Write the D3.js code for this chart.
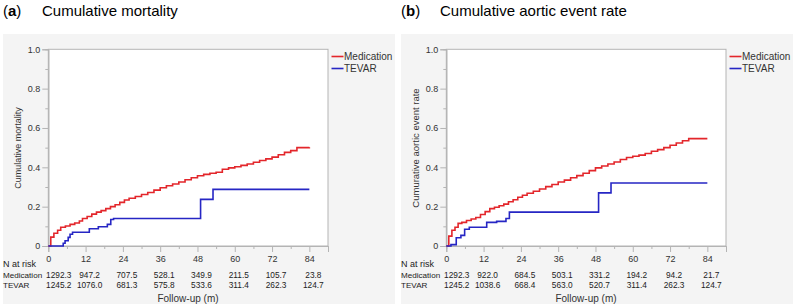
<!DOCTYPE html>
<html><head><meta charset="utf-8">
<script src="https://cdn.jsdelivr.net/npm/d3@7"></script>
<style>
body{margin:0;background:#fff;}
svg{display:block;font-family:"Liberation Sans",Arial,sans-serif;}
</style></head>
<body><svg id="c" width="800" height="308"></svg>
<script>
// ---------- data ----------
const xTicks = [0, 12, 24, 36, 48, 60, 72, 84];
const yTicks = [0, 0.2, 0.4, 0.6, 0.8, 1.0];
const seriesNames = ["Medication", "TEVAR"];

// Panel a: cumulative mortality
const mortMedT = [0,0.8,1.8,3,4,5.5,7,8.5,10,11,12.5,14,15.5,17,18.5,20,21.5,23,24.5,26,28,30,32,34,36,38,40,42,44,46,48,50,52,54,56,58,60,62,64,66,68,70,72,74,76,78,80,84];
const mortMedV = [0,0.045,0.065,0.08,0.095,0.102,0.11,0.117,0.127,0.14,0.15,0.162,0.172,0.18,0.19,0.2,0.21,0.222,0.234,0.243,0.252,0.262,0.272,0.284,0.296,0.306,0.315,0.325,0.337,0.347,0.357,0.364,0.37,0.375,0.39,0.397,0.403,0.41,0.417,0.426,0.435,0.443,0.452,0.464,0.476,0.485,0.5,0.502];
const mortTevT = [0,4.8,5.4,6.4,7,7.8,13.2,16.1,19,20.1,21,49,53,84];
const mortTevV = [0,0.014,0.027,0.044,0.06,0.07,0.088,0.098,0.11,0.135,0.14,0.237,0.288,0.288];
const mortRiskMed = ["1292.3","947.2","707.5","528.1","349.9","211.5","105.7","23.8"];
const mortRiskTev = ["1245.2","1076.0","681.3","575.8","533.6","311.4","262.3","124.7"];

// Panel b: cumulative aortic event rate
const aorMedT = [0,0.8,1.8,2.8,3.8,5,6.5,8,9.5,11,12.5,14,15.5,17,18.5,20,21.5,23,24.5,26,28,30,32,34,36,38,40,42,44,46,48,50,52,54,56,58,60,62,64,66,68,70,72,74,76,78,84];
const aorMedV = [0,0.05,0.08,0.095,0.115,0.12,0.13,0.137,0.145,0.16,0.175,0.19,0.197,0.205,0.213,0.225,0.235,0.248,0.258,0.268,0.278,0.29,0.302,0.313,0.325,0.335,0.347,0.358,0.37,0.383,0.397,0.407,0.417,0.427,0.44,0.45,0.456,0.462,0.47,0.482,0.49,0.5,0.512,0.524,0.535,0.546,0.546];
const aorTevT = [0,1.5,3.2,4.7,5.9,7.4,13,16.2,19.2,20.3,49,53,84];
const aorTevV = [0,0.007,0.042,0.054,0.085,0.095,0.12,0.125,0.14,0.172,0.27,0.32,0.32];
const aorRiskMed = ["1292.3","922.0","684.5","503.1","331.2","194.2","94.2","21.7"];
const aorRiskTev = ["1245.2","1038.6","668.4","563.0","520.7","311.4","262.3","124.7"];

const colors = {Medication:"#e3262b", TEVAR:"#2626c4"};

const panels = [
  {ox:0, letter:"a", title:"Cumulative mortality", ylabel:"Cumulative mortality", ylabelSize:9,
   med:[mortMedT,mortMedV], tev:[mortTevT,mortTevV], riskMed:mortRiskMed, riskTev:mortRiskTev},
  {ox:398, letter:"b", title:"Cumulative aortic event rate", ylabel:"Cumurative aortic event rate", ylabelSize:9.5,
   med:[aorMedT,aorMedV], tev:[aorTevT,aorTevV], riskMed:aorRiskMed, riskTev:aorRiskTev}
];

const svg = d3.select("#c");

panels.forEach(p => {
  const g = svg.append("g").attr("transform", `translate(${p.ox},0)`);
  g.append("rect").attr("x",3).attr("y",34).attr("width",392).attr("height",270).attr("fill","#f4f4f4");
  const t = g.append("text").attr("x",3).attr("y",15.5).attr("font-size",15).attr("fill","#000");
  t.append("tspan").text("(");
  t.append("tspan").attr("font-weight","bold").text(p.letter);
  t.append("tspan").text(")");
  g.append("text").attr("x",42).attr("y",15.5).attr("font-size",15).attr("fill","#000").text(p.title);

  const L = 48.3, R = 328, T = 49.3, B = 246;
  const x = d3.scaleLinear().domain([0,90]).range([L,R]);
  const y = d3.scaleLinear().domain([0,1]).range([B,T]);

  g.append("rect").attr("x",L).attr("y",T).attr("width",R-L).attr("height",B-T)
    .attr("fill","#fff").attr("stroke","#b4b4b4").attr("stroke-width",1);

  const ya = g.append("g").attr("transform",`translate(${L},0)`)
    .call(d3.axisLeft(y).tickValues(yTicks).tickSize(6).tickPadding(2)
      .tickFormat(d => d===0 ? "0" : d3.format(".1f")(d)));
  const yminor = g.append("g").attr("transform",`translate(${L},0)`)
    .call(d3.axisLeft(y).tickValues(d3.range(0.1,1,0.2)).tickSize(3).tickFormat(""));
  const xa = g.append("g").attr("transform",`translate(0,${B})`)
    .call(d3.axisBottom(x).tickValues(xTicks).tickSize(6).tickPadding(2));
  const xminor = g.append("g").attr("transform",`translate(0,${B})`)
    .call(d3.axisBottom(x).tickValues(d3.range(6,90,12)).tickSize(3).tickFormat(""));
  [ya,yminor,xa,xminor].forEach(a=>{
    a.select(".domain").attr("stroke","#b4b4b4");
    a.selectAll(".tick line").attr("stroke","#b4b4b4");
    a.selectAll("text").attr("font-size",9).attr("fill","#333").attr("font-family","Liberation Sans, Arial, sans-serif");
  });
  xa.selectAll("text").attr("dy","0.85em");

  g.append("text").attr("transform",`translate(21,148) rotate(-90)`)
    .attr("text-anchor","middle").attr("font-size",p.ylabelSize).attr("fill","#333").text(p.ylabel);

  const line = d3.line().x(d=>x(d[0])).y(d=>y(d[1])).curve(d3.curveStepAfter);
  const series = [["Medication",p.med],["TEVAR",p.tev]];
  series.forEach(([name,[ts,vs]])=>{
    g.append("path").datum(ts.map((tt,i)=>[tt,vs[i]]))
      .attr("d",line).attr("fill","none").attr("stroke",colors[name]).attr("stroke-width",1.6);
  });

  seriesNames.forEach((n,i)=>{
    const ly = 56.5 + i*12;
    g.append("line").attr("x1",331.5).attr("x2",343.5).attr("y1",ly).attr("y2",ly)
      .attr("stroke",colors[n]).attr("stroke-width",1.6);
    g.append("text").attr("x",344).attr("y",ly+3.5).attr("font-size",10).attr("fill","#333").text(n);
  });

  g.append("text").attr("x",3).attr("y",266.5).attr("font-size",9).attr("fill","#222").text("N at risk");
  g.append("text").attr("x",3).attr("y",277.5).attr("font-size",8.1).attr("fill","#222").text("Medication");
  g.append("text").attr("x",3).attr("y",287.5).attr("font-size",8.1).attr("fill","#222").text("TEVAR");
  xTicks.forEach((tk,i)=>{
    const cx = x(tk)+(i===0?10.5:4);
    g.append("text").attr("x",cx).attr("y",277.5).attr("text-anchor","middle")
      .attr("font-size",8.3).attr("fill","#222").text(p.riskMed[i]);
    g.append("text").attr("x",cx).attr("y",287.5).attr("text-anchor","middle")
      .attr("font-size",8.3).attr("fill","#222").text(p.riskTev[i]);
  });
  g.append("text").attr("x",188).attr("y",301.5).attr("text-anchor","middle")
    .attr("font-size",10).attr("fill","#333").text("Follow-up (m)");
});
</script></body></html>
